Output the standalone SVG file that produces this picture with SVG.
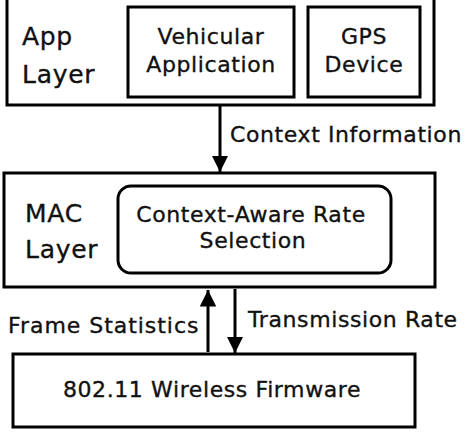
<svg xmlns="http://www.w3.org/2000/svg" width="468" height="433" viewBox="0 0 468 433">
<defs>
<style>
.box{fill:#fff;stroke:#000;stroke-width:3}
.t{font-family:"DejaVu Sans",sans-serif;font-size:22px;fill:#111;stroke:#111;stroke-width:0.35px;letter-spacing:0.6px}
.big{font-size:25px;letter-spacing:0.7px}
.c{text-anchor:middle}
.ln{stroke:#000;stroke-width:3;fill:none}
</style>
<marker id="ah" viewBox="0 0 10 10" refX="10" refY="5" markerWidth="5.5" markerHeight="5.5" markerUnits="strokeWidth" orient="auto">
<path d="M0,0 L10,5 L0,10 z" fill="#000"/>
</marker>
</defs>
<rect width="468" height="433" fill="#fff"/>
<g id="app-layer">
<rect class="box" x="7" y="-5" width="427" height="110"/>
<text class="t big" x="22" y="45">App</text>
<text class="t big" x="22" y="83">Layer</text>
</g>
<g id="vehicular-app">
<rect class="box" x="128" y="7" width="166" height="90"/>
<text class="t c" x="211" y="44">Vehicular</text>
<text class="t c" x="211" y="72">Application</text>
</g>
<g id="gps">
<rect class="box" x="308" y="7" width="112" height="90"/>
<text class="t c" x="364" y="44">GPS</text>
<text class="t c" x="364" y="72">Device</text>
</g>
<g id="mac-layer">
<rect class="box" x="4" y="173" width="431" height="114"/>
<text class="t big" x="25" y="222">MAC</text>
<text class="t big" x="25" y="258">Layer</text>
</g>
<g id="rate-selection">
<rect class="box" x="118" y="186" width="273" height="87" rx="13"/>
<text class="t c" x="251" y="222">Context-Aware Rate</text>
<text class="t c" x="253" y="248">Selection</text>
</g>
<g id="firmware">
<rect class="box" x="13" y="354" width="402" height="73"/>
<text class="t c" x="212" y="397">802.11 Wireless Firmware</text>
</g>
<g id="connectors">
<line class="ln" x1="220" y1="105" x2="220" y2="172" marker-end="url(#ah)"/>
<text class="t" x="230" y="142">Context Information</text>
<line class="ln" x1="208" y1="352" x2="208" y2="290" marker-end="url(#ah)"/>
<text class="t" x="8" y="333" textLength="191">Frame Statistics</text>
<line class="ln" x1="235" y1="289" x2="235" y2="353" marker-end="url(#ah)"/>
<text class="t" x="248" y="327">Transmission Rate</text>
</g>
</svg>
